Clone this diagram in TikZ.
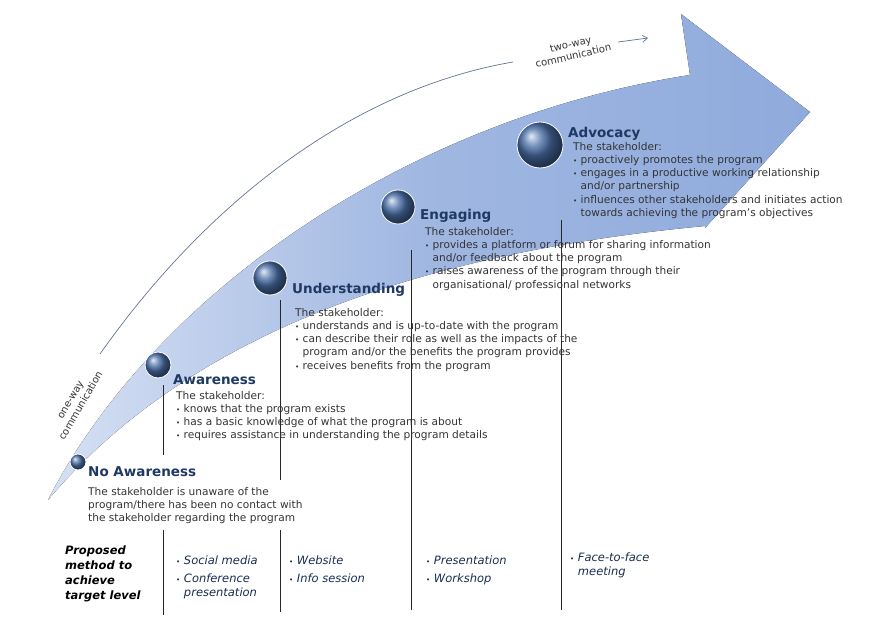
\documentclass[tikz,border=0pt]{standalone}
\usepackage{fontspec}
\setmainfont{DejaVu Sans}
\usetikzlibrary{arrows.meta}
\definecolor{band}{HTML}{8FAADC}
\definecolor{bandlight}{HTML}{D5E0F3}
\definecolor{navy}{HTML}{1F3864}
\definecolor{ballc}{HTML}{4A6FA8}
\definecolor{txt}{HTML}{333333}
\newcommand{\bul}{{\scriptsize\textbullet}\ }
\newcommand{\nob}{\phantom{\bul}}
\begin{document}
\begin{tikzpicture}[x=1pt,y=-1pt,
  ttl/.style={anchor=base west,font=\fontsize{13.5}{15}\selectfont\bfseries,text=navy,inner sep=0},
  body/.style={anchor=north west,align=left,font=\fontsize{10.6}{13.2}\selectfont,text=txt,inner sep=0},
  meth/.style={anchor=north west,align=left,font=\fontsize{11.5}{18}\selectfont\itshape,text=navy!80!black,inner sep=0},
  ball/.style={circle,shading=ball,ball color=ballc,draw=white,line width=0.8pt,inner sep=0},
  vl/.style={draw=black!85,line width=0.9pt},
  comm/.style={draw=navy!70!white,line width=0.7pt}]
\useasboundingbox (0,0) rectangle (881,644);
% band arrow
\fill[left color=bandlight,right color=band,middle color=band!85!white]
  (48,500) .. controls (150,300) and (400,120) .. (690,75) -- (681,14) -- (810,112) -- (705,228)
  -- (705,226) .. controls (450,250) and (200,320) .. (48,500) -- cycle;
% communication line
\draw[comm] (100,354) .. controls (205,205) and (350,90) .. (513,62);
\draw[comm,-{Straight Barb[length=5pt,width=7pt]}] (618,42) -- (648,38);
\node[rotate=13,align=center,font=\fontsize{10}{12}\selectfont,text=txt] (tw) at (572,50) {two-way\\communication};
\node[rotate=60,align=center,font=\fontsize{10}{12}\selectfont,text=txt] (ow) at (76,403) {one-way\\communication};
% vertical lines
\draw[vl] (163,385) -- (163,455); \draw[vl] (163,530) -- (163,615);
\draw[vl] (280,300) -- (280,480); \draw[vl] (280,530) -- (280,612);
\draw[vl] (411,250) -- (411,610);
\draw[vl] (561,220) -- (561,610);
% balls
\node[ball,minimum size=16pt] (b0) at (78,462) {};
\node[ball,minimum size=26pt] (b1) at (158,365) {};
\node[ball,minimum size=34pt] (b2) at (270,278) {};
\node[ball,minimum size=34pt] (b3) at (398,207) {};
\node[ball,minimum size=46pt] (b4) at (540,145) {};
% titles and texts
\node[ttl] (t4) at (568,138) {Advocacy};
\node[body] (d4) at (573,142) {The stakeholder:\\
 \bul proactively promotes the program\\
 \bul engages in a productive working relationship\\
 \nob and/or partnership\\
 \bul influences other stakeholders and initiates action\\
 \nob towards achieving the program's objectives};
\node[ttl] (t3) at (420,220) {Engaging};
\node[body] (d3) at (425,227) {The stakeholder:\\
 \bul provides a platform or forum for sharing information\\
 \nob and/or feedback about the program\\
 \bul raises awareness of the program through their\\
 \nob organisational/ professional networks};
\node[ttl] (t2) at (292,294) {Understanding};
\node[body] (d2) at (295,308) {The stakeholder:\\
 \bul understands and is up-to-date with the program\\
 \bul can describe their role as well as the impacts of the\\
 \nob program and/or the benefits the program provides\\
 \bul receives benefits from the program};
\node[ttl] (t1) at (173,384) {Awareness};
\node[body] (d1) at (176,391) {The stakeholder:\\
 \bul knows that the program exists\\
 \bul has a basic knowledge of what the program is about\\
 \bul requires assistance in understanding the program details};
\node[ttl] (t0) at (88,476) {No Awareness};
\node[body] (d0) at (88,487) {The stakeholder is unaware of the\\
 program/there has been no contact with\\
 the stakeholder regarding the program};
% methods
\node[anchor=north west,align=left,font=\fontsize{11.5}{15}\selectfont\bfseries\itshape,inner sep=0] (pm) at (65,546) {Proposed\\method to\\achieve\\target level};
\node[meth] (m1) at (176,556) {\bul Social media\\\bul Conference\\[-4pt]\nob presentation};
\node[meth] (m2) at (289,556) {\bul Website\\\bul Info session};
\node[meth] (m3) at (426,556) {\bul Presentation\\\bul Workshop};
\node[meth,font=\fontsize{11.5}{14}\selectfont\itshape] (m4) at (570,553) {\bul Face-to-face\\\nob meeting};
\end{tikzpicture}
\end{document}
